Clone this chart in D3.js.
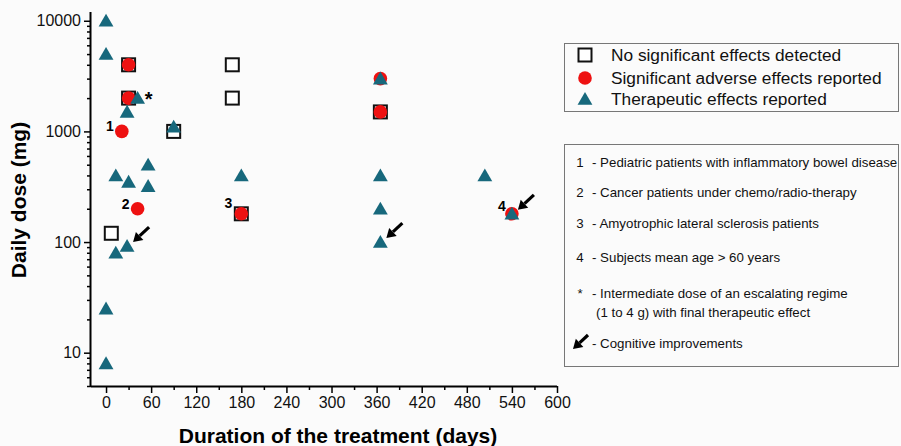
<!DOCTYPE html>
<html><head><meta charset="utf-8">
<script src="https://cdn.jsdelivr.net/npm/d3@7"></script>
<style>
body{margin:0;background:#fbfbfb;}
svg{display:block;font-family:"Liberation Sans",Arial,sans-serif;}
</style></head>
<body><svg id="c" width="901" height="446"></svg>
<script>
// ---- data: [duration (days), daily dose (mg)] ----
const noEffect = [[30,4000],[30,2000],[90,1000],[168,4000],[168,2000],[180,180],[365,1500],[7,120]];
const adverse = [[30,4000],[30,2000],[21,1000],[42,200],[180,180],[365,3000],[365,1500],[540,180]];
const therapeutic = [[0,10000],[0,5000],[42,2000],[28,1500],[90,1100],[13,400],[30,350],[56,500],[56,320],
  [180,400],[13,80],[28,92],[0,25],[0,8],[365,3000],[365,400],[365,200],[365,100],[504,400],[540,180]];
const numberLabels = [["1",21,1000],["2",42,200],["3",180,180],["4",540,180]];
const starLabels = [["*",42,2000]];
const cognitiveArrows = [[28,92],[365,100],[540,180]];
const xTicks = [0,60,120,180,240,300,360,420,480,540,600];
const yTicks = [10,100,1000,10000];
const legendItems = ["No significant effects detected","Significant adverse effects reported","Therapeutic effects reported"];
const notes = [["1","- Pediatric patients with inflammatory bowel disease"],["2","- Cancer patients under chemo/radio-therapy"],
  ["3","- Amyotrophic lateral sclerosis patients"],["4","- Subjects mean age > 60 years"],
  ["*","- Intermediate dose of an escalating regime"],["","(1 to 4 g) with final therapeutic effect"],["","- Cognitive improvements"]];

const RED="#ee1111", TEAL="#17687c";
const svg=d3.select("#c");
const L=91,R=557,T=12,B=386;
const x=d3.scaleLinear().domain([-20,600]).range([L,R]);
const y=d3.scaleLog().domain([5,12000]).range([B,T]);

// axes
const xMinor=d3.range(30,600,60);
svg.append("g").attr("transform",`translate(0,${B})`)
  .call(d3.axisBottom(x).tickValues(xMinor).tickSize(4).tickFormat(""))
  .call(g=>g.select(".domain").remove()).selectAll("line").attr("stroke","#000").attr("stroke-width",1.5);
const gx=svg.append("g").attr("transform",`translate(0,${B})`)
  .call(d3.axisBottom(x).tickValues(xTicks).tickSize(7).tickSizeOuter(0).tickPadding(4));
gx.attr("font-family",null);
gx.select(".domain").attr("stroke","#000").attr("stroke-width",2).attr("d",`M${L},0.5H${R}`);
gx.selectAll("line").attr("stroke","#000").attr("stroke-width",1.5);
gx.selectAll("text").attr("font-size",16).attr("fill","#111");

const yMinor=[];
[1,10,100,1000].forEach(d=>{for(let k=2;k<=9;k++){const v=d*k;if(v>=5&&v<=12000)yMinor.push(v);}});
svg.append("g").attr("transform",`translate(${L},0)`)
  .call(d3.axisLeft(y).tickValues(yMinor).tickSize(4).tickFormat(""))
  .call(g=>g.select(".domain").remove()).selectAll("line").attr("stroke","#000").attr("stroke-width",1.5);
const gy=svg.append("g").attr("transform",`translate(${L},0)`)
  .call(d3.axisLeft(y).tickValues(yTicks).tickSize(7).tickSizeOuter(0).tickFormat(d3.format("d")).tickPadding(3));
gy.attr("font-family",null);
gy.select(".domain").attr("stroke","#000").attr("stroke-width",2).attr("d",`M-0.5,${T}V${B+1}`);
gy.selectAll("line").attr("stroke","#000").attr("stroke-width",1.5);
gy.selectAll("text").attr("font-size",16).attr("fill","#111");

svg.append("text").attr("x",338).attr("y",443).attr("text-anchor","middle")
  .attr("font-size",21).attr("font-weight","bold").text("Duration of the treatment (days)");
svg.append("text").attr("transform","translate(26,200) rotate(-90)").attr("text-anchor","middle")
  .attr("font-size",21).attr("font-weight","bold").text("Daily dose (mg)");

// markers
const tri=d3.symbol().type(d3.symbolTriangle).size(95);
function square(g,cx,cy){g.append("rect").attr("x",cx-6.5).attr("y",cy-6.5).attr("width",13).attr("height",13)
  .attr("fill","#fff").attr("stroke","#111").attr("stroke-width",2);}
function circle(g,cx,cy){g.append("circle").attr("cx",cx).attr("cy",cy).attr("r",6.8).attr("fill",RED);}
function triangle(g,cx,cy){g.append("path").attr("d",tri()).attr("transform",`translate(${cx},${cy+1.5})`).attr("fill",TEAL);}

const gm=svg.append("g");
noEffect.forEach(d=>square(gm,x(d[0]),y(d[1])));
adverse.forEach(d=>circle(gm,x(d[0]),y(d[1])));
therapeutic.forEach(d=>triangle(gm,x(d[0]),y(d[1])));

// labels
numberLabels.forEach(d=>{
  const off = d[0]==="3"?[-13,-6]:(d[0]==="4"?[-10,-3]:[-12,0]);
  svg.append("text").attr("x",x(d[1])+off[0]).attr("y",y(d[2])+off[1]).attr("text-anchor","middle")
    .attr("font-size",14).attr("font-weight","bold").text(d[0]);
});
starLabels.forEach(d=>svg.append("text").attr("x",x(d[1])+11).attr("y",y(d[2])+8).attr("text-anchor","middle")
  .attr("font-size",20).attr("font-weight","bold").text(d[0]));

// arrows
function arrow(g,x1,y1,x2,y2){ // tail -> tip
  const a=Math.atan2(y2-y1,x2-x1), hl=9, hw=5.5;
  const bx=x2-hl*Math.cos(a), by=y2-hl*Math.sin(a);
  g.append("line").attr("x1",x1).attr("y1",y1).attr("x2",bx).attr("y2",by).attr("stroke","#000").attr("stroke-width",3.2);
  const px=-Math.sin(a)*hw, py=Math.cos(a)*hw;
  g.append("path").attr("d",`M${x2},${y2}L${bx+px},${by+py}L${bx-px},${by-py}Z`).attr("fill","#000");
}
cognitiveArrows.forEach(d=>{const cx=x(d[0]),cy=y(d[1]);arrow(svg,cx+22,cy-19,cx+6,cy-4);});

// legend box
const lg=svg.append("g");
lg.append("rect").attr("x",564.5).attr("y",43.5).attr("width",334).attr("height",68).attr("fill","none").attr("stroke","#777").attr("stroke-width",1);
const ly=[55,78,99];
square(lg,585,ly[0]); circle(lg,585,ly[1]); triangle(lg,585,ly[2]);
legendItems.forEach((t,i)=>lg.append("text").attr("x",611).attr("y",ly[i]+6).attr("font-size",17.3).attr("fill","#111").text(t));

// notes box
const ng=svg.append("g");
ng.append("rect").attr("x",564.5).attr("y",144.5).attr("width",334).attr("height",222).attr("fill","none").attr("stroke","#777").attr("stroke-width",1);
const ny=[162,192,223,257,293,312,343];
notes.forEach((n,i)=>{
  if(n[0]) ng.append("text").attr("x",580).attr("y",ny[i]+5).attr("text-anchor","middle").attr("font-size",13.3).attr("fill","#111").text(n[0]);
  ng.append("text").attr("x",i===5?596:592).attr("y",ny[i]+5).attr("font-size",13.3).attr("fill","#111").text(n[1]);
});
arrow(ng,588,335,573,349);
</script></body></html>
